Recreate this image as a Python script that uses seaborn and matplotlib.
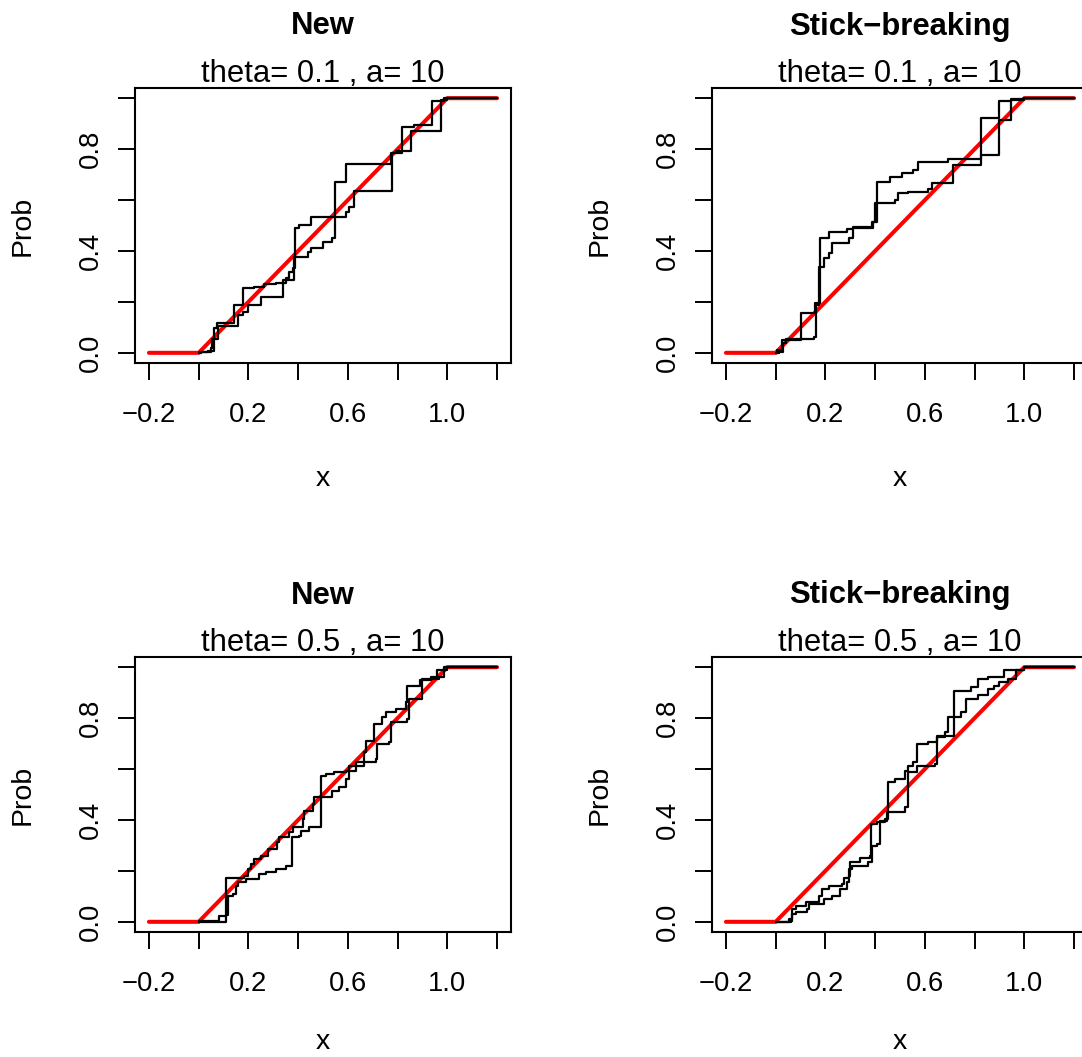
import matplotlib
matplotlib.use("Agg")
import matplotlib.pyplot as plt
import seaborn as sns
import numpy as np
import pandas as pd

# ---------------- data ----------------
titles = ["New", "Stick\u2212breaking", "New", "Stick\u2212breaking"]
subtitles = ["theta= 0.1 , a= 10", "theta= 0.1 , a= 10",
             "theta= 0.5 , a= 10", "theta= 0.5 , a= 10"]

# true CDF (uniform on [0,1])
true_x = [-0.2, 0.0, 1.0, 1.2]
true_y = [0.0, 0.0, 1.0, 1.0]

# panel 1: New, theta=0.1
p1a_x = [0.0, 0.003, 0.037, 0.063, 0.074, 0.144, 0.177, 0.224, 0.264, 0.311, 0.351, 0.364, 0.378,
         0.388, 0.404, 0.451, 0.592, 0.605, 0.625, 0.779, 0.792, 0.852, 0.973, 0.998, 1.2]
p1a_y = [0.0, 0.004, 0.008, 0.098, 0.119, 0.187, 0.253, 0.258, 0.269, 0.275, 0.292, 0.318, 0.332,
         0.489, 0.502, 0.535, 0.554, 0.574, 0.636, 0.784, 0.794, 0.873, 0.993, 1.0, 1.0]
p1b_x = [0.0, 0.01, 0.05, 0.054, 0.077, 0.157, 0.177, 0.197, 0.251, 0.338, 0.384, 0.438, 0.451,
         0.498, 0.538, 0.549, 0.592, 0.772, 0.819, 0.866, 0.937, 0.986, 1.2]
p1b_y = [0.0, 0.004, 0.017, 0.056, 0.106, 0.148, 0.161, 0.187, 0.22, 0.286, 0.377, 0.397, 0.41,
         0.436, 0.45, 0.672, 0.742, 0.784, 0.886, 0.895, 0.987, 1.0, 1.0]

# panel 2: Stick-breaking, theta=0.1
p2a_x = [0.0, 0.007, 0.027, 0.1, 0.16, 0.18, 0.213, 0.287, 0.313, 0.387, 0.407, 0.46, 0.507,
         0.553, 0.573, 0.693, 0.827, 0.9, 0.947, 1.0, 1.2]
p2a_y = [0.0, 0.01, 0.05, 0.155, 0.194, 0.45, 0.476, 0.486, 0.495, 0.515, 0.672, 0.692, 0.705,
         0.718, 0.751, 0.761, 0.775, 0.915, 0.993, 1.0, 1.0]
p2b_x = [0.0, 0.013, 0.029, 0.04, 0.153, 0.163, 0.176, 0.193, 0.213, 0.227, 0.293, 0.313, 0.393,
         0.4, 0.48, 0.493, 0.533, 0.613, 0.627, 0.713, 0.827, 0.9, 0.947, 1.0, 1.2]
p2b_y = [0.0, 0.004, 0.037, 0.056, 0.063, 0.187, 0.338, 0.371, 0.391, 0.43, 0.45, 0.489, 0.515,
         0.587, 0.6, 0.626, 0.633, 0.644, 0.666, 0.738, 0.921, 0.99, 0.997, 1.0, 1.0]

# panel 3: New, theta=0.5
p3a_x = [0.0, 0.003, 0.108, 0.184, 0.197, 0.21, 0.224, 0.251, 0.277, 0.317, 0.324, 0.364, 0.378,
         0.418, 0.424, 0.458, 0.465, 0.538, 0.565, 0.592, 0.605, 0.632, 0.665, 0.672, 0.705, 0.739,
         0.752, 0.792, 0.832, 0.839, 0.892, 0.933, 0.959, 1.0, 1.2]
p3a_y = [0.0, 0.001, 0.174, 0.181, 0.207, 0.227, 0.246, 0.26, 0.286, 0.312, 0.332, 0.351, 0.371,
         0.404, 0.436, 0.463, 0.489, 0.515, 0.528, 0.561, 0.594, 0.613, 0.666, 0.712, 0.777, 0.803,
         0.823, 0.836, 0.862, 0.928, 0.948, 0.961, 0.987, 1.0, 1.0]
p3b_x = [0.0, 0.003, 0.083, 0.108, 0.117, 0.137, 0.15, 0.157, 0.19, 0.244, 0.271, 0.311, 0.351,
         0.375, 0.404, 0.411, 0.444, 0.491, 0.511, 0.545, 0.592, 0.605, 0.632, 0.712, 0.719, 0.765,
         0.772, 0.839, 0.846, 0.899, 0.966, 0.986, 1.2]
p3b_y = [0.0, 0.004, 0.021, 0.026, 0.102, 0.109, 0.142, 0.155, 0.17, 0.187, 0.194, 0.207, 0.22,
         0.332, 0.338, 0.358, 0.371, 0.574, 0.581, 0.587, 0.594, 0.613, 0.626, 0.64, 0.699, 0.708,
         0.784, 0.797, 0.875, 0.954, 0.961, 1.0, 1.0]

# panel 4: Stick-breaking, theta=0.5
p4a_x = [0.0, 0.007, 0.053, 0.067, 0.08, 0.12, 0.173, 0.187, 0.213, 0.267, 0.273, 0.293, 0.3,
         0.34, 0.38, 0.384, 0.407, 0.44, 0.453, 0.48, 0.52, 0.533, 0.553, 0.567, 0.613, 0.647,
         0.717, 0.787, 0.813, 0.853, 0.92, 1.0, 1.2]
p4a_y = [0.0, 0.001, 0.01, 0.05, 0.063, 0.076, 0.102, 0.128, 0.142, 0.148, 0.174, 0.181, 0.233,
         0.249, 0.26, 0.384, 0.391, 0.404, 0.548, 0.561, 0.594, 0.613, 0.626, 0.699, 0.705, 0.731,
         0.908, 0.921, 0.954, 0.961, 0.987, 1.0, 1.0]
p4b_x = [0.0, 0.007, 0.06, 0.067, 0.08, 0.127, 0.133, 0.193, 0.227, 0.26, 0.287, 0.293, 0.307,
         0.373, 0.387, 0.407, 0.42, 0.447, 0.52, 0.533, 0.567, 0.64, 0.647, 0.68, 0.693, 0.747,
         0.767, 0.813, 0.853, 0.88, 0.9, 0.933, 0.967, 1.0, 1.2]
p4b_y = [0.0, 0.0, 0.004, 0.03, 0.037, 0.05, 0.069, 0.089, 0.102, 0.128, 0.155, 0.207, 0.22,
         0.233, 0.299, 0.305, 0.397, 0.43, 0.45, 0.587, 0.613, 0.62, 0.725, 0.744, 0.803, 0.823,
         0.875, 0.889, 0.915, 0.928, 0.941, 0.954, 0.987, 1.0, 1.0]

curves = [[(p1a_x, p1a_y), (p1b_x, p1b_y)],
          [(p2a_x, p2a_y), (p2b_x, p2b_y)],
          [(p3a_x, p3a_y), (p3b_x, p3b_y)],
          [(p4a_x, p4a_y), (p4b_x, p4b_y)]]

xticks = [-0.2, 0.0, 0.2, 0.4, 0.6, 0.8, 1.0, 1.2]
xticklabels = ["\u22120.2", "", "0.2", "", "0.6", "", "1.0", ""]
yticks = [0.0, 0.2, 0.4, 0.6, 0.8, 1.0]
yticklabels = ["0.0", "", "0.4", "", "0.8", ""]

# ---------------- style ----------------
sns.set_theme(style="white")
plt.rcParams['font.family'] = ['Liberation Sans', 'DejaVu Sans']
for k in ["text.color", "axes.labelcolor", "xtick.color", "ytick.color", "axes.edgecolor"]:
    plt.rcParams[k] = "black"

W, H = 1082, 1057
fig = plt.figure(figsize=(W / 100, H / 100), dpi=100)
fig.patch.set_facecolor("white")

# box pixel positions: (left, top)
boxes = [(135, 88), (712, 88), (135, 657), (712, 657)]
bw, bh = 376, 275

fs_tick = 19.7
fs_title = 22.3
fs_lab = 20.5

for i, (bl, bt) in enumerate(boxes):
    ax = fig.add_axes([bl / W, 1 - (bt + bh) / H, bw / W, bh / H])
    ax.set_facecolor("white")
    sns.lineplot(x=true_x, y=true_y, ax=ax, color="#FF0000", linewidth=2.9,
                 estimator=None, sort=False)
    for cx, cy in curves[i]:
        sns.lineplot(x=cx, y=cy, ax=ax, color="black", linewidth=1.6,
                     drawstyle="steps-post", estimator=None, sort=False)
    ax.set_xlim(-0.256, 1.256)
    ax.set_ylim(-0.04, 1.04)
    ax.set_xticks(xticks)
    ax.set_xticklabels(xticklabels)
    ax.set_yticks(yticks)
    ax.set_yticklabels(yticklabels, rotation=90, va="center")
    ax.tick_params(axis="both", direction="out", length=12, width=1.4,
                   colors="black", labelsize=fs_tick, bottom=True, left=True)
    ax.tick_params(axis="x", pad=16.3)
    ax.tick_params(axis="y", pad=10.3)
    for s in ax.spines.values():
        s.set_visible(True)
        s.set_color("black")
        s.set_linewidth(1.5)
    ax.set_xlabel("")
    ax.set_ylabel("")
    ax.grid(False)

    cxp = bl + bw / 2
    fig.text(cxp / W, 1 - (bt - 53.5) / H, titles[i], ha="center", va="baseline",
             fontsize=fs_title, fontweight="bold", color="black")
    fig.text(cxp / W, 1 - (bt - 6) / H, subtitles[i], ha="center", va="baseline",
             fontsize=fs_title, color="black")
    xl_base = min(bt + bh + 123, H - 8)
    fig.text(cxp / W, 1 - xl_base / H, "x", ha="center", va="baseline",
             fontsize=fs_lab, color="black")
    fig.text((bl - 112) / W, 1 - (bt + bh / 2) / H, "Prob", ha="center", va="center",
             rotation=90, fontsize=fs_lab, color="black")

fig.savefig("out.png", dpi=100, facecolor="white")
